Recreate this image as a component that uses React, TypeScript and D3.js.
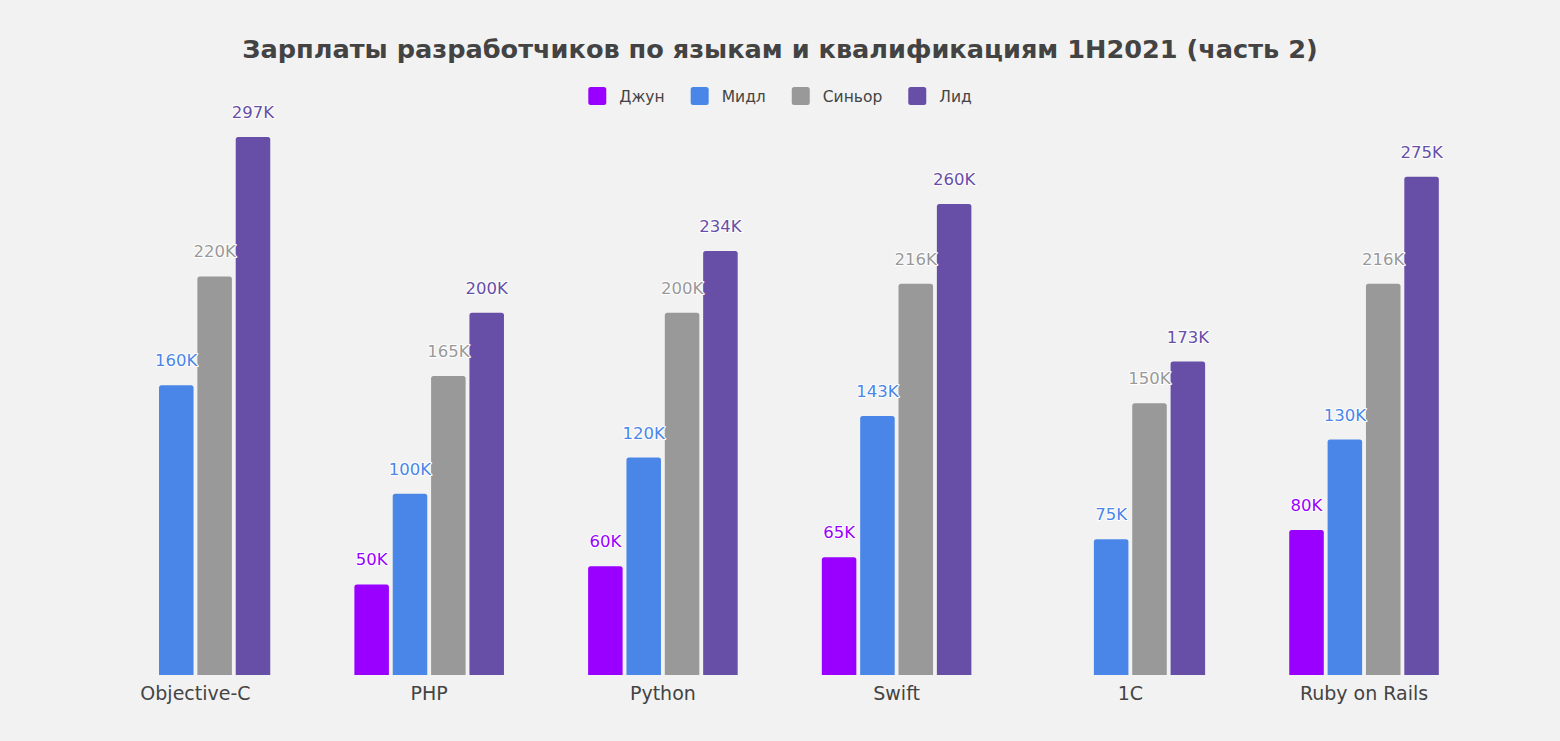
import React, { useEffect, useRef } from 'react';
import * as d3 from 'd3';

const categories = ['Objective-C', 'PHP', 'Python', 'Swift', '1C', 'Ruby on Rails'];
const seriesNames = ['Джун', 'Мидл', 'Синьор', 'Лид'];
const seriesColors = ['#9900ff', '#4a86e8', '#999999', '#674ea7'];
// values in thousands of rubles, null = no bar
const juniorValues = [null, 50, 60, 65, null, 80];
const middleValues = [160, 100, 120, 143, 75, 130];
const seniorValues = [220, 165, 200, 216, 150, 216];
const leadValues = [297, 200, 234, 260, 173, 275];

const title = 'Зарплаты разработчиков по языкам и квалификациям 1H2021 (часть 2)';

const width = 1560;
const height = 741;
const font = '"DejaVu Sans", Verdana, sans-serif';

const App = () => {
  const svgRef = useRef<SVGSVGElement>(null);

  useEffect(() => {
    const svg = d3.select(svgRef.current);
    svg.selectAll('*').remove();

    const series = [juniorValues, middleValues, seniorValues, leadValues];

    svg.append('rect')
      .attr('width', width)
      .attr('height', height)
      .attr('fill', '#f2f2f2');

    // Title
    svg.append('text')
      .attr('x', 780)
      .attr('y', 58)
      .attr('text-anchor', 'middle')
      .style('font-family', font)
      .style('font-weight', 'bold')
      .style('font-size', '25.6px')
      .style('fill', '#434343')
      .text(title);

    // Legend, laid out by measuring text
    const legend = svg.append('g');
    let cursor = 0;
    seriesNames.forEach((name, i) => {
      const item = legend.append('g').attr('transform', `translate(${cursor},0)`);
      item.append('rect')
        .attr('x', 0)
        .attr('y', -9)
        .attr('width', 18)
        .attr('height', 18)
        .attr('rx', 2.5)
        .attr('fill', seriesColors[i]);
      const t = item.append('text')
        .attr('x', 31)
        .attr('dy', '0.36em')
        .style('font-family', font)
        .style('font-size', '15.5px')
        .style('fill', '#444')
        .text(name);
      const w = (t.node() as SVGTextElement).getComputedTextLength();
      cursor += 31 + w + (i < seriesNames.length - 1 ? 26 : 0);
    });
    legend.attr('transform', `translate(${780 - cursor / 2},96)`);

    // Scales
    const x0 = d3.scaleBand()
      .domain(categories)
      .range([78.6, 1480.9])
      .paddingInner(0.36)
      .paddingOuter(0.18);

    const x1 = d3.scaleBand()
      .domain(seriesNames)
      .range([0, x0.bandwidth()])
      .paddingInner(0.1);

    const y = d3.scaleLinear()
      .domain([0, 300])
      .range([675, 675 - 300 * 1.8115]);

    const r = 2.5;
    const barPath = (x: number, w: number, top: number, bottom: number) =>
      `M${x},${bottom}V${top + r}Q${x},${top} ${x + r},${top}H${x + w - r}Q${x + w},${top} ${x + w},${top + r}V${bottom}Z`;

    const plot = svg.append('g');

    series.forEach((values, si) => {
      const data = categories
        .map((c, ci) => ({ cat: c, value: values[ci] }))
        .filter(d => d.value != null) as { cat: string; value: number }[];

      plot.selectAll(`.bar-${si}`)
        .data(data)
        .enter().append('path')
        .attr('class', `bar-${si}`)
        .attr('d', d => barPath(
          (x0(d.cat) as number) + (x1(seriesNames[si]) as number),
          x1.bandwidth(),
          y(d.value),
          y(0)
        ))
        .attr('fill', seriesColors[si]);
    });

    // Value labels on top (drawn after all bars so halo sits over neighbours)
    series.forEach((values, si) => {
      const data = categories
        .map((c, ci) => ({ cat: c, value: values[ci] }))
        .filter(d => d.value != null) as { cat: string; value: number }[];

      plot.selectAll(`.label-${si}`)
        .data(data)
        .enter().append('text')
        .attr('class', `label-${si}`)
        .attr('x', d => (x0(d.cat) as number) + (x1(seriesNames[si]) as number) + x1.bandwidth() / 2)
        .attr('y', d => y(d.value) - 19)
        .attr('text-anchor', 'middle')
        .style('font-family', font)
        .style('font-size', '16.5px')
        .style('fill', seriesColors[si])
        .style('stroke', '#ffffff')
        .style('stroke-width', '2px')
        .style('stroke-linejoin', 'round')
        .style('paint-order', 'stroke')
        .text(d => `${d.value}K`);
    });

    // Category axis labels
    svg.append('g')
      .selectAll('text')
      .data(categories)
      .enter().append('text')
      .attr('x', d => (x0(d) as number) + x0.bandwidth() / 2)
      .attr('y', 700)
      .attr('text-anchor', 'middle')
      .style('font-family', font)
      .style('font-size', '19px')
      .style('fill', '#444')
      .text(d => d);
  }, []);

  return (
    <>
      <style>{`body{margin:0;background:#f2f2f2;}`}</style>
      <svg ref={svgRef} width={width} height={height} style={{ display: 'block' }}></svg>
    </>
  );
};

export default App;
